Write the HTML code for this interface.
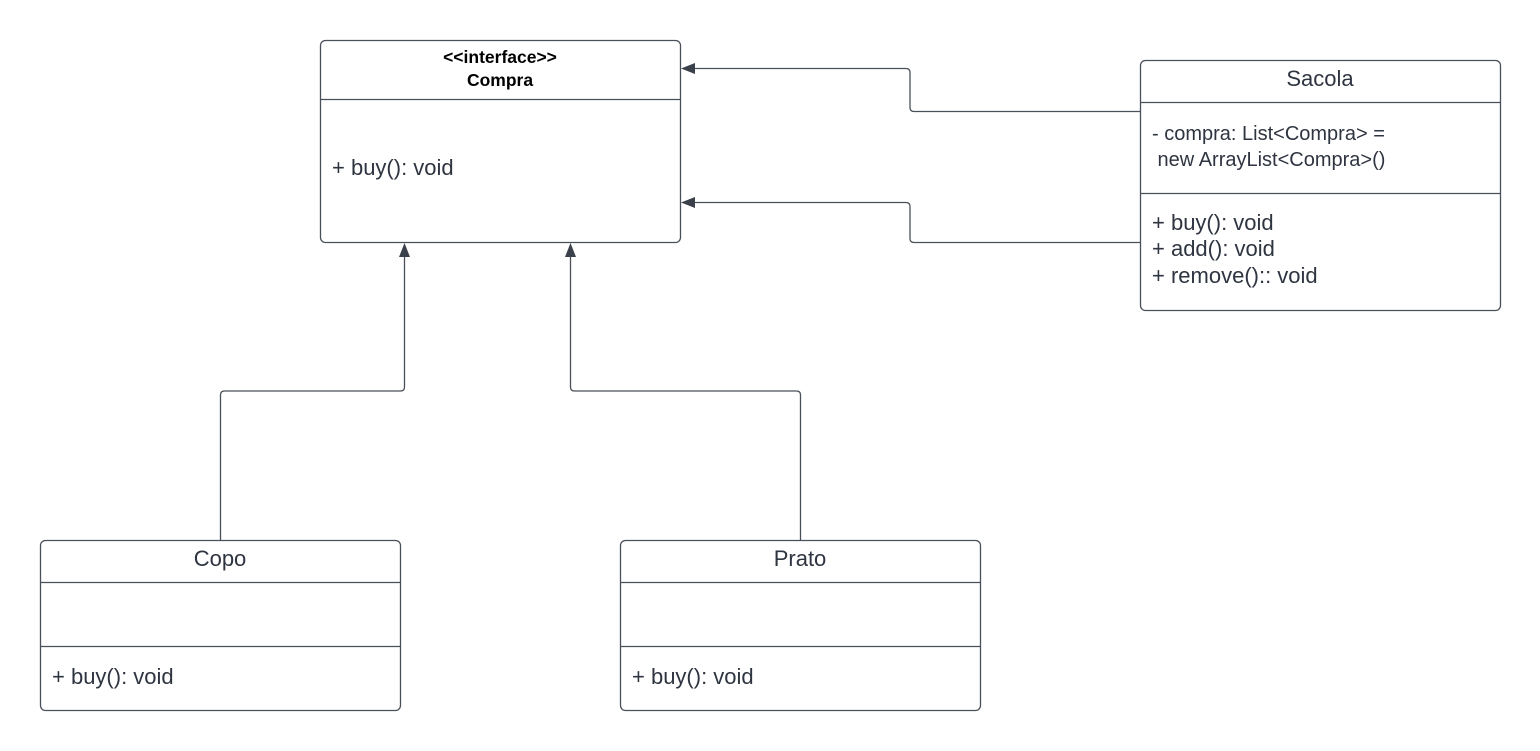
<!DOCTYPE html>
<html><head><meta charset="utf-8"><style>
html,body{margin:0;padding:0;background:#fff;}
svg{display:block;}
text{font-family:"Liberation Sans",Arial,sans-serif;fill:#2e3440;}
</style></head><body>
<svg width="1540" height="751" viewBox="0 0 1540 751" xmlns="http://www.w3.org/2000/svg">
<g fill="#fff" stroke="#4a5059" stroke-width="1.3">
<rect x="320.5" y="40.5" width="360" height="202" rx="5"/>
<line x1="320.5" y1="99.5" x2="680.5" y2="99.5"/>
<rect x="1140.5" y="60.5" width="360" height="250" rx="5"/>
<line x1="1140.5" y1="102.5" x2="1500.5" y2="102.5"/>
<line x1="1140.5" y1="193.5" x2="1500.5" y2="193.5"/>
<rect x="40.5" y="540.5" width="360" height="170" rx="5"/>
<line x1="40.5" y1="582.5" x2="400.5" y2="582.5"/>
<line x1="40.5" y1="646.5" x2="400.5" y2="646.5"/>
<rect x="620.5" y="540.5" width="360" height="170" rx="5"/>
<line x1="620.5" y1="582.5" x2="980.5" y2="582.5"/>
<line x1="620.5" y1="646.5" x2="980.5" y2="646.5"/>
</g>
<g fill="none" stroke="#4a5059" stroke-width="1.3">
<path d="M1140 111.5 H914 Q910 111.5 910 107.5 V72.5 Q910 68.5 906 68.5 H694"/>
<path d="M1140 242.5 H914 Q910 242.5 910 238.5 V206.5 Q910 202.5 906 202.5 H694"/>
<path d="M220.5 540 V395 Q220.5 391 224.5 391 H400.5 Q404.5 391 404.5 387 V256"/>
<path d="M800.5 540 V395 Q800.5 391 796.5 391 H574.5 Q570.5 391 570.5 387 V256"/>
</g>
<g fill="#3a414a">
<polygon points="681,68.5 695,63 695,74"/>
<polygon points="681,202.5 695,197 695,208"/>
<polygon points="404.5,243 399,257 410,257"/>
<polygon points="570.5,243 565,257 576,257"/>
</g>
<text x="500" y="63" font-size="17.5" font-weight="bold" text-anchor="middle" style="fill:#000">&lt;&lt;interface&gt;&gt;</text>
<text x="500" y="86" font-size="17.5" font-weight="bold" text-anchor="middle" style="fill:#000">Compra</text>
<text x="332" y="175" font-size="22">+ buy(): void</text>
<text x="1320" y="86" font-size="22" text-anchor="middle">Sacola</text>
<text x="1152" y="140" font-size="20">- compra: List&lt;Compra&gt; =</text>
<text x="1152" y="166" font-size="20" xml:space="preserve"> new ArrayList&lt;Compra&gt;()</text>
<text x="1152" y="230" font-size="22">+ buy(): void</text>
<text x="1152" y="256" font-size="22">+ add(): void</text>
<text x="1152" y="283" font-size="22">+ remove():: void</text>
<text x="220" y="566" font-size="22" text-anchor="middle">Copo</text>
<text x="52" y="684" font-size="22">+ buy(): void</text>
<text x="800" y="566" font-size="22" text-anchor="middle">Prato</text>
<text x="632" y="684" font-size="22">+ buy(): void</text>
</svg>
</body></html>
